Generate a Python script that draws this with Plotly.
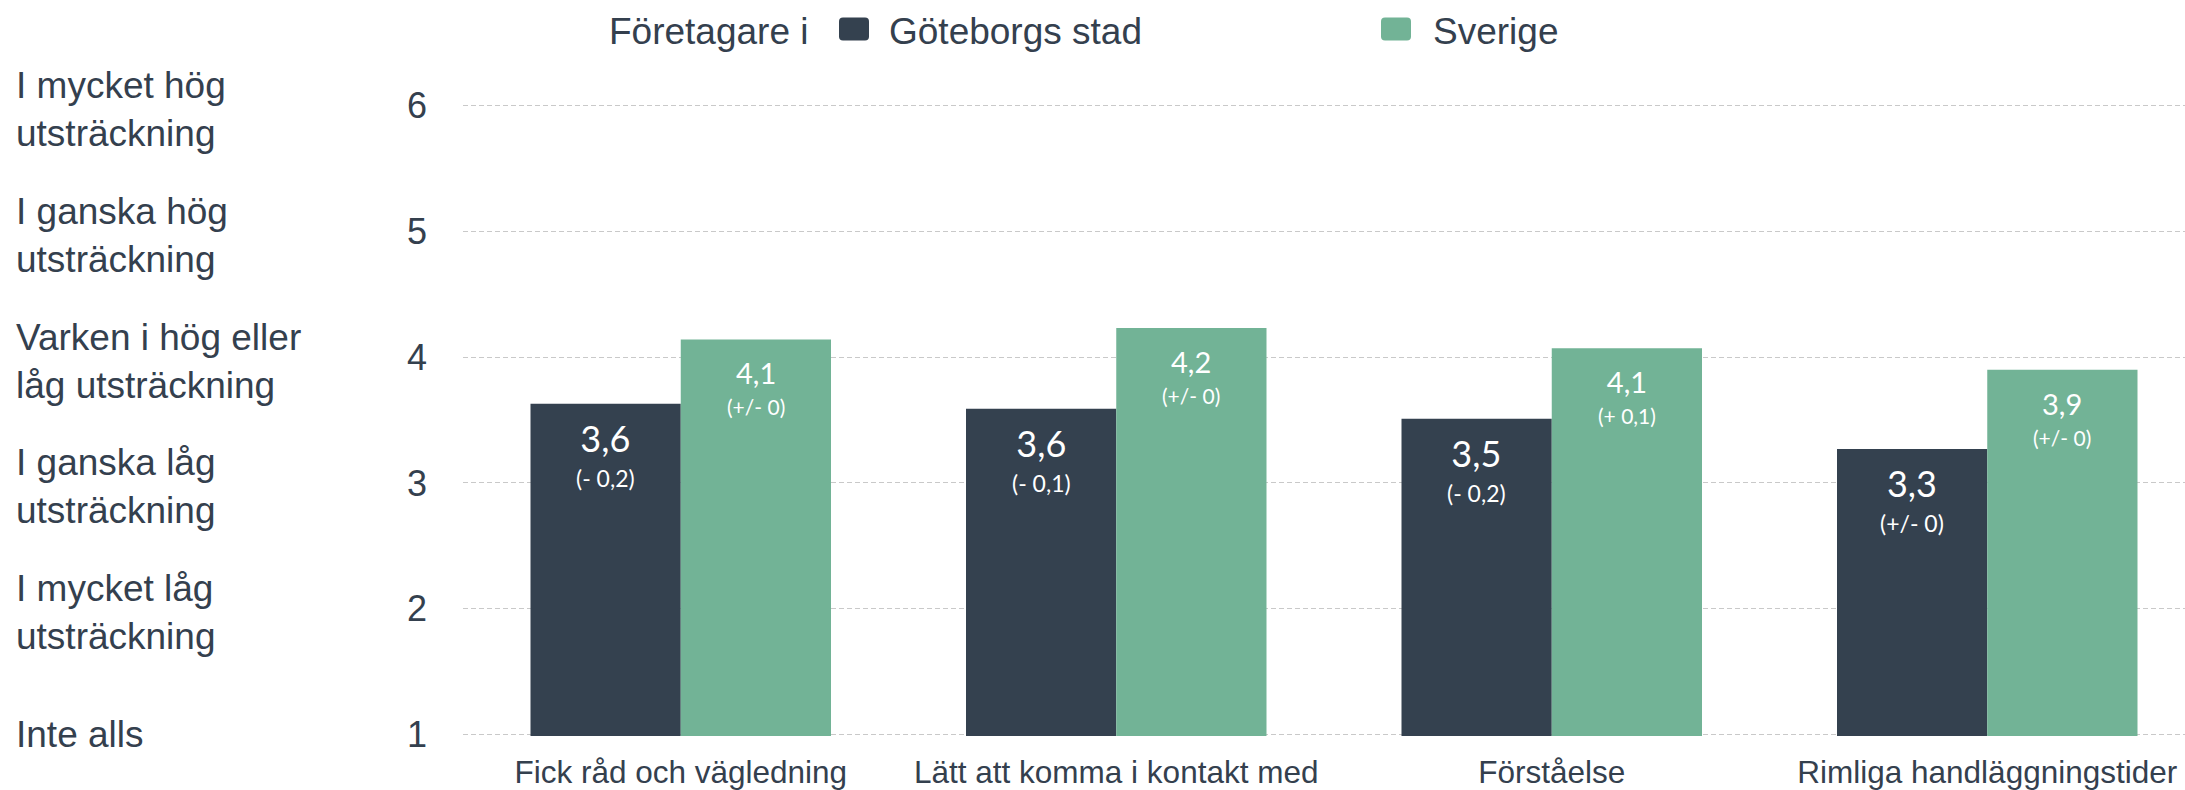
import plotly.graph_objects as go

categories = ["Fick råd och vägledning", "Lätt att komma i kontakt med", "Förståelse", "Rimliga handläggningstider"]
series_names = ["Göteborgs stad", "Sverige"]
goteborg_values = [3.63, 3.59, 3.51, 3.27]
sverige_values = [4.14, 4.23, 4.07, 3.90]
goteborg_labels = ["3,6", "3,6", "3,5", "3,3"]
goteborg_change = ["(- 0,2)", "(- 0,1)", "(- 0,2)", "(+/- 0)"]
sverige_labels = ["4,1", "4,2", "4,1", "3,9"]
sverige_change = ["(+/- 0)", "(+/- 0)", "(+ 0,1)", "(+/- 0)"]
y_tick_values = [1, 2, 3, 4, 5, 6]
y_scale_labels = ["Inte alls", "I mycket låg<br>utsträckning", "I ganska låg<br>utsträckning",
                  "Varken i hög eller<br>låg utsträckning", "I ganska hög<br>utsträckning",
                  "I mycket hög<br>utsträckning"]
legend_title = "Företagare i"

DARK = "#34414f"
GREEN = "#72b396"
TEXT = "#34404e"
FONT = "Liberation Sans"
LABEL_FONT = "Lato"

W, H = 2185, 790
ML, MR, MT, MB = 463, 0, 104, 54
BARGAP = 0.31

plot_w = W - ML - MR
plot_h = H - MT - MB
cat_step = 435.5
x_end = plot_w / cat_step - 0.5

fig = go.Figure()
fig.add_trace(go.Bar(
    x=categories, y=goteborg_values, name=series_names[0],
    marker=dict(color=DARK, line=dict(width=0)),
    hoverinfo="skip", showlegend=False,
))
fig.add_trace(go.Bar(
    x=categories, y=sverige_values, name=series_names[1],
    marker=dict(color=GREEN, line=dict(width=0)),
    hoverinfo="skip", showlegend=False,
))

# value labels inside the top of each bar
bar_w = (1 - BARGAP) / 2
for i, (v, lab, ch) in enumerate(zip(goteborg_values, goteborg_labels, goteborg_change)):
    fig.add_annotation(
        x=i - bar_w / 2, xref="x", y=v, yref="y", yanchor="top", xanchor="center",
        yshift=-10, showarrow=False, align="center",
        text=f"<span style='font-size:36px'>{lab}</span><br><span style='font-size:23px'>{ch}</span>",
        font=dict(size=27, color="white", family=LABEL_FONT),
    )
for i, (v, lab, ch) in enumerate(zip(sverige_values, sverige_labels, sverige_change)):
    fig.add_annotation(
        x=i + bar_w / 2, xref="x", y=v, yref="y", yanchor="top", xanchor="center",
        yshift=-14, showarrow=False, align="center",
        text=f"<span style='font-size:29px'>{lab}</span><br><span style='font-size:21px'>{ch}</span>",
        font=dict(size=24, color="white", family=LABEL_FONT),
    )

# scale descriptions on the far left
for v, lab in zip(y_tick_values, y_scale_labels):
    fig.add_annotation(
        x=(14 - ML) / plot_w, xref="paper", xanchor="left",
        y=v, yref="y", yanchor="middle", yshift=(-4 if "<br>" in lab else 0),
        text=lab, align="left", showarrow=False,
        font=dict(size=37, color=TEXT, family=FONT),
    )

# legend drawn at the top
def py(page_y):
    return 1 + (MT - page_y) / plot_h

def px(page_x):
    return (page_x - ML) / plot_w

LEG_Y = 31
fig.add_annotation(x=px(607), xref="paper", xanchor="left", y=py(LEG_Y), yref="paper", yanchor="middle",
                   text=legend_title, showarrow=False, font=dict(size=37, color=TEXT, family=FONT))
leg_items = [(series_names[0], DARK, 854, 887), (series_names[1], GREEN, 1396, 1431)]
rr = "M -11,-11.5 L 11,-11.5 Q 15,-11.5 15,-7.5 L 15,7.5 Q 15,11.5 11,11.5 L -11,11.5 Q -15,11.5 -15,7.5 L -15,-7.5 Q -15,-11.5 -11,-11.5 Z"
for name, col, sx, tx in leg_items:
    fig.add_shape(type="path", xref="paper", yref="paper", xsizemode="pixel", ysizemode="pixel",
                  xanchor=px(sx), yanchor=py(29), path=rr, fillcolor=col, line=dict(width=0), layer="above")
    fig.add_annotation(x=px(tx), xref="paper", xanchor="left", y=py(LEG_Y), yref="paper", yanchor="middle",
                       text=name, showarrow=False, font=dict(size=37, color=TEXT, family=FONT))

fig.update_layout(
    width=W, height=H,
    margin=dict(l=ML, r=MR, t=MT, b=MB, pad=0, autoexpand=False),
    paper_bgcolor="white", plot_bgcolor="white",
    barmode="group", bargap=BARGAP, bargroupgap=0,
    font=dict(family=FONT, color=TEXT, size=32),
    showlegend=False,
    xaxis=dict(
        range=[-0.5, x_end], showgrid=False, zeroline=False, showline=False,
        ticks="", tickfont=dict(size=31.5, color=TEXT, family=FONT),
        ticklabelstandoff=14, fixedrange=True,
    ),
    yaxis=dict(
        range=[0.99, 6.01], tickvals=y_tick_values, ticktext=[str(v) for v in y_tick_values],
        showgrid=True, gridcolor="#c9c9c9", gridwidth=1, griddash="5px,3px",
        zeroline=False, showline=False, ticks="",
        tickfont=dict(size=36, color=TEXT, family=FONT),
        ticklabelstandoff=35, fixedrange=True,
    ),
)

fig.write_html("out.html", config={"displayModeBar": False},
               post_script="document.body.style.margin='0';document.body.style.padding='0';")
